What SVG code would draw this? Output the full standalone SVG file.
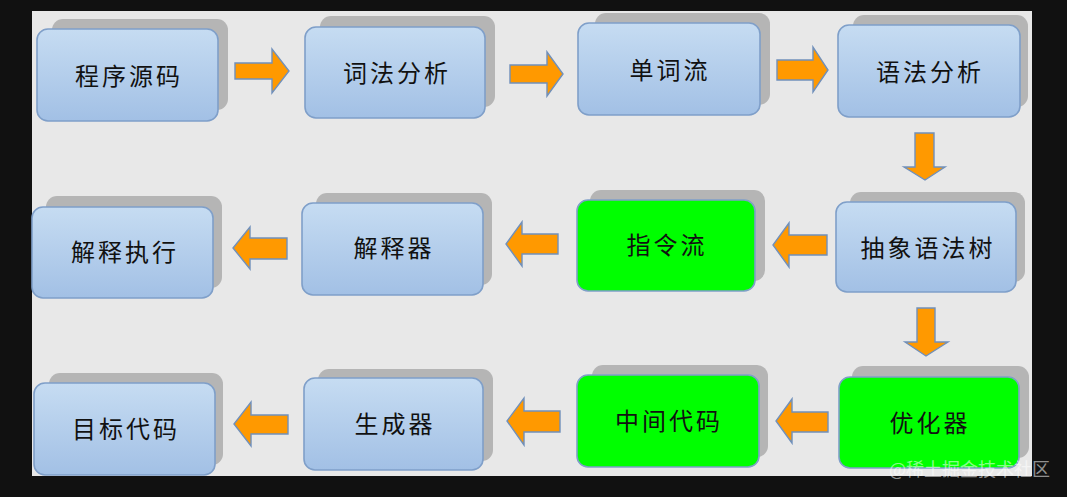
<svg xmlns="http://www.w3.org/2000/svg" width="1067" height="497" viewBox="0 0 1067 497">
<defs>
<linearGradient id="blueGrad" x1="0" y1="0" x2="0" y2="1">
<stop offset="0" stop-color="#c6dcf2"/>
<stop offset="1" stop-color="#a2c0e5"/>
</linearGradient>
<style>
.shadow{fill:#b5b5b5;}
.box{fill:url(#blueGrad);stroke:#7f9fc9;stroke-width:1.6;}
.green{fill:#00ff00;stroke:#7f9fc9;stroke-width:1.6;}
.label{font-family:"Noto Sans CJK SC","Noto Sans CJK TC",sans-serif;font-size:24px;fill:#111;text-anchor:middle;dominant-baseline:central;letter-spacing:3px;}
.arrow{fill:#ff9900;stroke:#7090bb;stroke-width:1.4;stroke-linejoin:miter;}
.wm{font-family:"Noto Sans CJK SC",sans-serif;font-size:18px;fill:#ffffff;fill-opacity:0.55;}
</style>
</defs>
<rect x="0" y="0" width="1067" height="497" fill="#111111"/>
<rect x="32" y="11" width="1000" height="465" fill="#e8e8e8"/>

<g id="node-source">
<rect class="shadow" x="52" y="19" width="176" height="91" rx="11"/>
<rect class="box" x="37" y="29" width="181" height="92" rx="11"/>
<text class="label" x="129" y="74">程序源码</text>
</g>
<g id="node-lexer">
<rect class="shadow" x="320" y="16" width="175" height="91" rx="11"/>
<rect class="box" x="305" y="27" width="180" height="91" rx="11"/>
<text class="label" x="397" y="71">词法分析</text>
</g>
<g id="node-tokens">
<rect class="shadow" x="595" y="13" width="175" height="92" rx="11"/>
<rect class="box" x="578" y="23" width="182" height="92" rx="11"/>
<text class="label" x="670" y="68">单词流</text>
</g>
<g id="node-parser">
<rect class="shadow" x="853" y="15" width="175" height="92" rx="11"/>
<rect class="box" x="838" y="25" width="182" height="92" rx="11"/>
<text class="label" x="930" y="70">语法分析</text>
</g>

<g id="node-ast">
<rect class="shadow" x="850" y="192" width="175" height="90" rx="11"/>
<rect class="box" x="836" y="202" width="180" height="90" rx="11"/>
<text class="label" x="928" y="246">抽象语法树</text>
</g>
<g id="node-instr">
<rect class="shadow" x="590" y="190" width="175" height="91" rx="11"/>
<rect class="green" x="577" y="200" width="178" height="91" rx="11"/>
<text class="label" x="667" y="243">指令流</text>
</g>
<g id="node-interp">
<rect class="shadow" x="316" y="193" width="176" height="92" rx="11"/>
<rect class="box" x="302" y="203" width="181" height="92" rx="11"/>
<text class="label" x="394" y="246">解释器</text>
</g>
<g id="node-exec">
<rect class="shadow" x="46" y="196" width="176" height="92" rx="11"/>
<rect class="box" x="32" y="207" width="181" height="91" rx="11"/>
<text class="label" x="125" y="250">解释执行</text>
</g>

<g id="node-opt">
<rect class="shadow" x="852" y="366" width="177" height="92" rx="11"/>
<rect class="green" x="839" y="377" width="180" height="91" rx="11"/>
<text class="label" x="930" y="421">优化器</text>
</g>
<g id="node-ir">
<rect class="shadow" x="592" y="365" width="176" height="92" rx="11"/>
<rect class="green" x="577" y="375" width="182" height="92" rx="11"/>
<text class="label" x="669" y="419">中间代码</text>
</g>
<g id="node-gen">
<rect class="shadow" x="318" y="369" width="175" height="92" rx="11"/>
<rect class="box" x="304" y="378" width="179" height="92" rx="11"/>
<text class="label" x="395" y="422">生成器</text>
</g>
<g id="node-target">
<rect class="shadow" x="49" y="373" width="174" height="92" rx="11"/>
<rect class="box" x="34" y="383" width="181" height="92" rx="11"/>
<text class="label" x="126" y="427">目标代码</text>
</g>

<g id="connectors">
<polygon class="arrow" points="235,63 272,63 272,49 289,71 272,93 272,79 235,79"/>
<polygon class="arrow" points="510,65 547,65 547,52 563,74 547,96 547,83 510,83"/>
<polygon class="arrow" points="777,60 813,60 813,47 828,70 813,92 813,80 777,80"/>
<polygon class="arrow" points="915,133 934,133 934,167 945,167 925,180 904,167 915,167"/>
<polygon class="arrow" points="827,235 789,235 789,223 773,245 789,267 789,255 827,255"/>
<polygon class="arrow" points="558,234 522,234 522,222 506,244 522,266 522,254 558,254"/>
<polygon class="arrow" points="287,238 250,238 250,227 233,248 250,269 250,259 287,259"/>
<polygon class="arrow" points="917,308 935,308 935,342 948,342 926,356 905,342 917,342"/>
<polygon class="arrow" points="828,412 792,412 792,399 776,421 792,443 792,432 828,432"/>
<polygon class="arrow" points="560,411 524,411 524,398 507,421 524,445 524,432 560,432"/>
<polygon class="arrow" points="288,415 251,415 251,402 234,424 251,446 251,434 288,434"/>
</g>

<text class="wm" x="889" y="476">@稀土掘金技术社区</text>
</svg>
